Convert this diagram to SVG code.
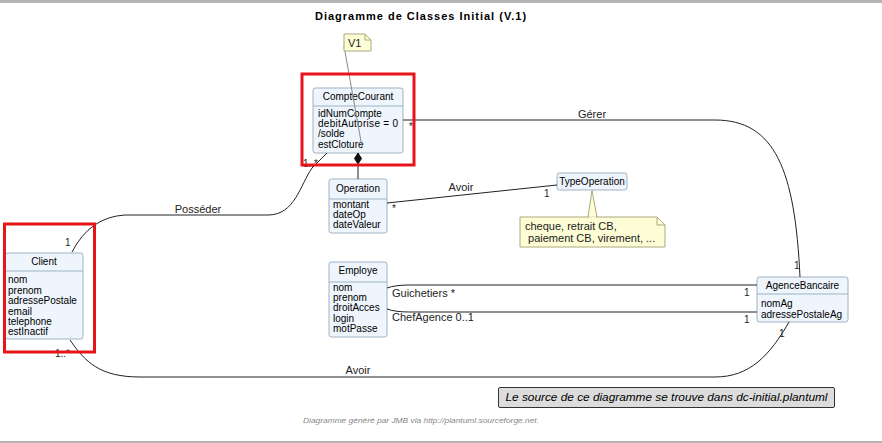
<svg xmlns="http://www.w3.org/2000/svg" width="882" height="443" viewBox="0 0 882 443">
<style>
text{font-family:"Liberation Sans",Arial,sans-serif;fill:#000}
.title{font-size:11px;font-weight:bold;letter-spacing:1px}
.cls{fill:#eef5fc;stroke:#9fb3c3;stroke-width:1}
.div{stroke:#9fb3c3;stroke-width:1}
.h{font-size:10px;text-anchor:middle}
.a{font-size:10px}
.lbl{font-size:11px;fill:#222}
.m{font-size:10px;fill:#222}
.edge{fill:none;stroke:#222;stroke-width:1}
.note{fill:#fdfdd6;stroke:#aaa980;stroke-width:1}
.hl{fill:none;stroke:#e8141c;stroke-width:3}
</style>
<rect x="0" y="0" width="882" height="3" fill="#b4b4b4"/>
<rect x="0" y="441" width="882" height="2" fill="#b4b4b4"/>
<text class="title" x="421" y="20" text-anchor="middle">Diagramme de Classes Initial (V.1)</text>

<g id="CompteCourant">
  <rect class="cls" x="313" y="88" width="90" height="65" rx="2.5"/>
  <line class="div" x1="313" y1="106" x2="403" y2="106"/>
  <text class="h" x="358" y="100">CompteCourant</text>
  <text class="a" x="318" y="117">idNumCompte</text>
  <text class="a" x="318" y="127" letter-spacing="0.3">debitAutorise = 0</text>
  <text class="a" x="318" y="137">/solde</text>
  <text class="a" x="318" y="148">estCloture</text>
</g>

<g id="Operation">
  <rect class="cls" x="329" y="179" width="58" height="54" rx="2.5"/>
  <line class="div" x1="329" y1="199" x2="387" y2="199"/>
  <text class="h" x="358" y="192">Operation</text>
  <text class="a" x="333" y="208">montant</text>
  <text class="a" x="333" y="218">dateOp</text>
  <text class="a" x="333" y="228">dateValeur</text>
</g>

<g id="TypeOperation">
  <rect class="cls" x="557" y="173" width="70" height="17" rx="2.5"/>
  <text class="h" x="592" y="185">TypeOperation</text>
</g>

<g id="Client">
  <rect class="cls" x="5" y="253" width="78" height="86" rx="2.5"/>
  <line class="div" x1="5" y1="271" x2="83" y2="271"/>
  <text class="h" x="44" y="265">Client</text>
  <text class="a" x="8" y="283">nom</text>
  <text class="a" x="8" y="294">prenom</text>
  <text class="a" x="8" y="304">adressePostale</text>
  <text class="a" x="8" y="315">email</text>
  <text class="a" x="8" y="325">telephone</text>
  <text class="a" x="8" y="335">estInactif</text>
</g>

<g id="Employe">
  <rect class="cls" x="329" y="262" width="58" height="75" rx="2.5"/>
  <line class="div" x1="329" y1="282" x2="387" y2="282"/>
  <text class="h" x="358" y="274">Employe</text>
  <text class="a" x="333" y="291">nom</text>
  <text class="a" x="333" y="301">prenom</text>
  <text class="a" x="333" y="311">droitAcces</text>
  <text class="a" x="333" y="322">login</text>
  <text class="a" x="333" y="332">motPasse</text>
</g>

<g id="AgenceBancaire">
  <rect class="cls" x="757" y="277" width="91" height="45" rx="2.5"/>
  <line class="div" x1="757" y1="294" x2="848" y2="294"/>
  <text class="h" x="802.5" y="289">AgenceBancaire</text>
  <text class="a" x="761" y="307">nomAg</text>
  <text class="a" x="761" y="318">adressePostaleAg</text>
</g>

<g id="connectors">
  <line x1="344" y1="46" x2="362" y2="147" stroke="#8a8a8a" stroke-width="1"/>
  <path class="edge" d="M403,120 L715,120 C775,120 795,170 800,277"/>
  <path class="edge" d="M72,252 Q90,217 125,215 L268,215 C295,215 300,185 312,168 L327,153"/>
  <line class="edge" x1="358" y1="164" x2="358" y2="179"/>
  <polygon points="358,153 361.5,158.5 358,164 354.5,158.5" fill="#111" stroke="#111"/>
  <line class="edge" x1="387" y1="203" x2="557" y2="185"/>
  <path class="edge" d="M387,288 Q395,285 410,285 L757,285"/>
  <path class="edge" d="M387,309 Q395,312 410,312 L757,312"/>
  <path class="edge" d="M70,340 C85,362 100,377 140,377 L715,377 C750,377 770,355 789,322"/>
  <polygon points="592,190.5 588,217 597,217" fill="#fdfdd6" stroke="#aaa980"/>
  <text class="lbl" x="592" y="118" text-anchor="middle">Gérer</text>
  <text class="m" x="409" y="130">*</text>
  <text class="m" x="794" y="269">1</text>
  <text class="lbl" x="198" y="213" text-anchor="middle">Posséder</text>
  <text class="m" x="65" y="246">1</text>
  <text class="m" x="303" y="167">1..*</text>
  <text class="lbl" x="461" y="191" text-anchor="middle">Avoir</text>
  <text class="m" x="392" y="212">*</text>
  <text class="m" x="544" y="197">1</text>
  <text class="lbl" x="392" y="297">Guichetiers *</text>
  <text class="m" x="744" y="296">1</text>
  <text class="lbl" x="392" y="321">ChefAgence 0..1</text>
  <text class="m" x="744" y="323">1</text>
  <text class="lbl" x="358" y="374" text-anchor="middle">Avoir</text>
  <text class="m" x="55" y="357">1..*</text>
  <text class="m" x="779" y="337">1</text>
</g>

<g id="noteV1">
  <path class="note" d="M344,34 L365,34 L371,40 L371,51 L344,51 Z"/>
  <path d="M365,34 L365,40 L371,40" fill="none" stroke="#aaa980"/>
  <text class="lbl" x="348" y="47" fill="#000">V1</text>
</g>

<g id="noteType">
  <path class="note" d="M520,217 L657,217 L665,225 L665,247 L520,247 Z"/>
  <path d="M657,217 L657,225 L665,225" fill="none" stroke="#aaa980"/>
  <line x1="589" y1="217" x2="596" y2="217" stroke="#fdfdd6" stroke-width="1.5"/>
  <text class="lbl" x="525" y="230" fill="#000">cheque, retrait CB,</text>
  <text class="lbl" x="525" y="242" fill="#000" xml:space="preserve"> paiement CB, virement, ...</text>
</g>

<g id="sourceNote">
  <rect x="498.5" y="387.5" width="336" height="20" fill="#dcdcdc" stroke="#333" rx="1.5"/>
  <text x="666.5" y="401" font-size="11" font-style="italic" text-anchor="middle" textLength="322" lengthAdjust="spacingAndGlyphs">Le source de ce diagramme se trouve dans dc-initial.plantuml</text>
</g>

<text x="421" y="423" font-size="8" font-style="italic" fill="#888" style="fill:#888" text-anchor="middle" textLength="236" lengthAdjust="spacingAndGlyphs">Diagramme généré par JMB via http://plantuml.sourceforge.net.</text>

<g id="highlights">
  <rect class="hl" x="302" y="74" width="112" height="91"/>
  <rect class="hl" x="4.5" y="224" width="90" height="128"/>
</g>
</svg>
